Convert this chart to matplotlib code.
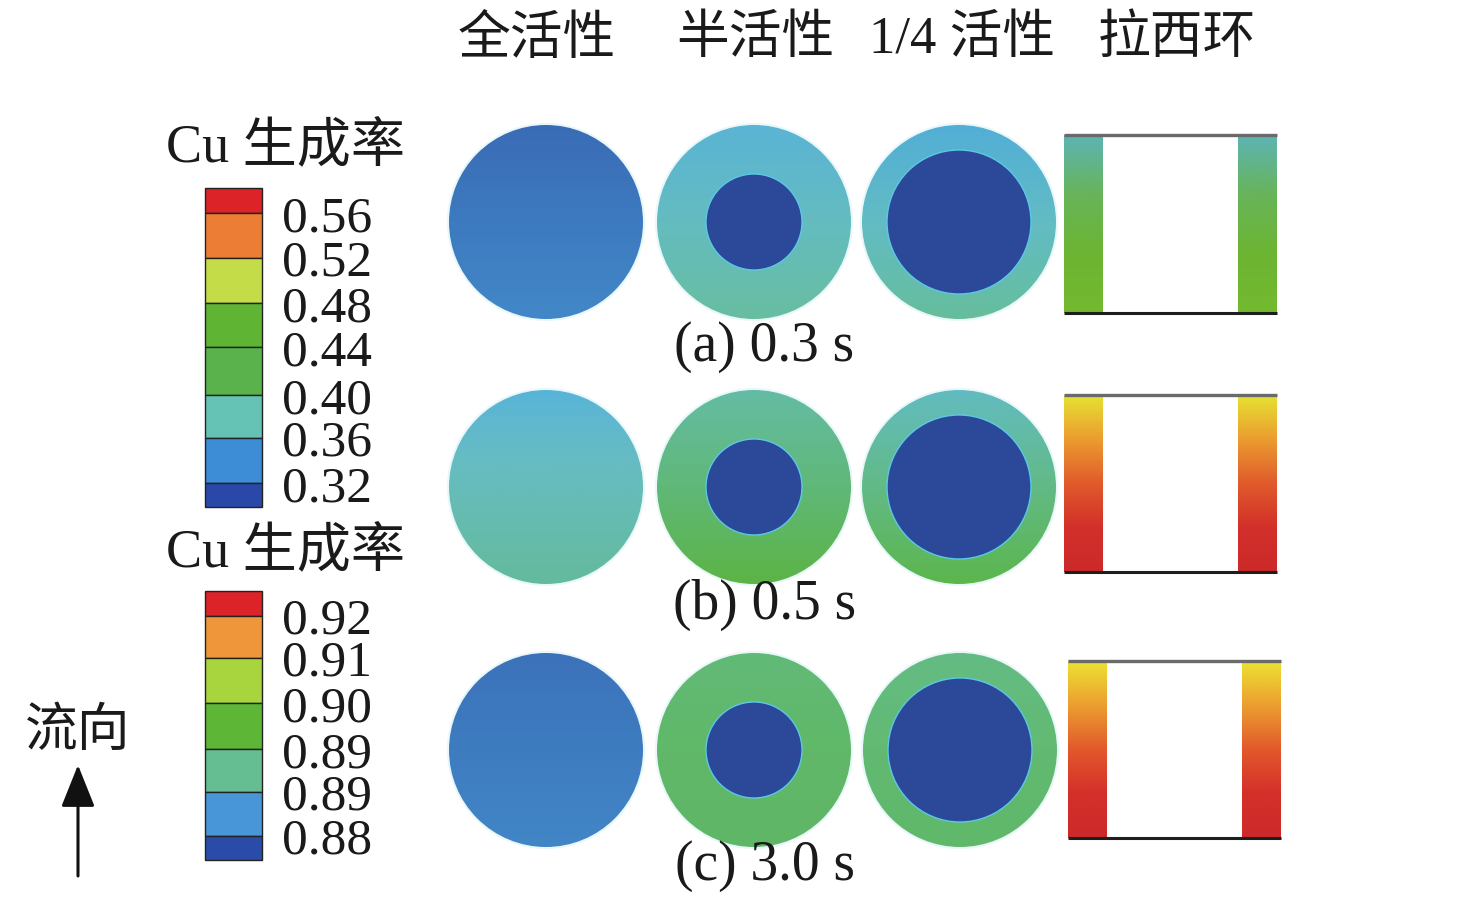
import numpy as np
import matplotlib
matplotlib.use('Agg')
import matplotlib.pyplot as plt
from matplotlib.patches import Circle, Rectangle
from matplotlib.colors import LinearSegmentedColormap

# ---------------- data ----------------
column_headers = ['全活性', '半活性', '1/4 活性', '拉西环']
time_labels = ['(a) 0.3 s', '(b) 0.5 s', '(c) 3.0 s']
cbar_title = 'Cu 生成率'
flow_label = '流向'

cbar1_ticks = ['0.56', '0.52', '0.48', '0.44', '0.40', '0.36', '0.32']
cbar1_colors = ['#dc2328', '#ec7d34', '#c4dc48', '#5fb434', '#5ab24c',
                '#64c3b4', '#3c8cd6', '#2a48a8']
cbar2_ticks = ['0.92', '0.91', '0.90', '0.89', '0.89', '0.88']
cbar2_colors = ['#dc2328', '#f0963a', '#a8d43e', '#5eb636', '#64be92',
                '#4896d8', '#2a4ca8']

# colour fields (top -> bottom) for each row: full, half, quarter, Raschig
row_a_fields = [['#3a6cb6', '#3d7abf', '#4288c8'],
                ['#5ab4d4', '#64bcc0', '#68bea0'],
                ['#52aed6', '#62bcc4', '#66be9c'],
                ['#5cb4b4', '#68b45a', '#6cb432', '#74ba30']]
row_b_fields = [['#58b4d8', '#66bcc4', '#66bcb0', '#64ba9c'],
                ['#64bca4', '#60b878', '#5cb446'],
                ['#62bcc0', '#62ba86', '#5cb64c'],
                ['#e6e232', '#ec9c30', '#e05a2c', '#d2302a', '#cc2a2a']]
row_c_fields = [['#3c72ba', '#3e7cc0', '#4286c6'],
                ['#62ba78', '#60b868', '#5eb666'],
                ['#64bc84', '#62ba72', '#60b86a'],
                ['#ece234', '#ec9e30', '#e2582c', '#d4302a', '#cc2a2a']]
inner_color = '#2c4898'
inner_edge = '#5cc8e6'

# ---------------- layout ----------------
W, H = 1476, 901
fig = plt.figure(figsize=(W / 100, H / 100), dpi=100)
ax = fig.add_axes([0, 0, 1, 1])

serif_cjk = ['Liberation Serif', 'Noto Sans CJK SC']

row_y = [222, 487, 750]
col_x = [546, 754, 959]
outer_r = 97
inner_r = [None, 48, 72]
ras_x = [(1064, 1277), (1064, 1277), (1068, 1281)]
ras_y = [(135, 313), (395, 572), (661, 838)]
bar_w = 39

grad = np.linspace(0, 1, 256).reshape(-1, 1)


def field_image(colors, x0, x1, y0, y1, clip):
    cmap = LinearSegmentedColormap.from_list('f', colors)
    im = ax.imshow(grad, cmap=cmap, extent=(x0, x1, y1, y0), origin='upper',
                   interpolation='bilinear', aspect='auto', zorder=2)
    im.set_clip_path(clip)


rows = [row_a_fields, row_b_fields, row_c_fields]
for ri, fields in enumerate(rows):
    cy = row_y[ri]
    for ci in range(3):
        cx = col_x[ci] + (1 if ri == 2 and ci == 2 else 0)
        halo = Circle((cx, cy), outer_r + 1.0, facecolor='none',
                      edgecolor='#cdeef4', lw=1.5, alpha=0.45, zorder=1)
        ax.add_patch(halo)
        circ = Circle((cx, cy), outer_r, facecolor='none', edgecolor='none',
                      zorder=2)
        ax.add_patch(circ)
        field_image(fields[ci], cx - outer_r, cx + outer_r,
                    cy - outer_r, cy + outer_r, circ)
        if inner_r[ci]:
            ax.add_patch(Circle((cx, cy), inner_r[ci], facecolor=inner_color,
                                edgecolor=inner_edge, lw=1.0, zorder=3))
    # Raschig ring
    x0, x1 = ras_x[ri]
    y0, y1 = ras_y[ri]
    for bx in (x0, x1 - bar_w):
        rect = Rectangle((bx, y0), bar_w, y1 - y0, facecolor='none',
                         edgecolor='none', zorder=2)
        ax.add_patch(rect)
        field_image(fields[3], bx, bx + bar_w, y0, y1, rect)
    ax.plot([x0, x1], [y0, y0], color='#6a6a6a', lw=2.4, zorder=4,
            solid_capstyle='butt')
    ax.plot([x0, x1], [y1, y1], color='#1e1e1e', lw=2.2, zorder=4,
            solid_capstyle='butt')

# headers
header_x = [537, 755, 962, 1177]
for hx, txt in zip(header_x, column_headers):
    ax.text(hx, 40, txt, ha='center', va='center', fontsize=38,
            family=serif_cjk, color='#1a1a1a')

# time labels
label_pos = [(764, 347), (765, 605), (765, 866)]
for (lx, ly), txt in zip(label_pos, time_labels):
    ax.text(lx, ly, txt, ha='center', va='center', fontsize=40,
            family=serif_cjk, color='#1a1a1a')


# colour bars
def draw_cbar(top, bounds, colors, ticks, title_y):
    ax.text(286, title_y, cbar_title, ha='center', va='center', fontsize=39,
            family=serif_cjk, color='#1a1a1a')
    edges = [top] + list(bounds)
    for k, col in enumerate(colors):
        ax.add_patch(Rectangle((205, edges[k]), 57, edges[k + 1] - edges[k],
                               facecolor=col, edgecolor='#222222', lw=1.0,
                               zorder=3))
    for yb, t in zip(bounds[:-1], ticks):
        ax.text(282, yb + 18, t, ha='left', va='baseline', fontsize=37,
                family='Liberation Serif', color='#1a1a1a')


draw_cbar(188, [213, 258, 303, 347, 395, 438, 483, 507], cbar1_colors,
          cbar1_ticks, 148)
draw_cbar(591, [616, 658, 703, 749, 792, 836, 860], cbar2_colors,
          cbar2_ticks, 553)

# flow direction
ax.text(78, 733, flow_label, ha='center', va='center', fontsize=38,
        family=serif_cjk, color='#1a1a1a')
ax.annotate('', xy=(78, 765), xytext=(78, 876),
            arrowprops=dict(arrowstyle='-|>,head_length=0.45,head_width=0.18',
                            mutation_scale=58, lw=2.2, color='#111111',
                            shrinkA=0, shrinkB=0))

ax.set_xlim(0, W)
ax.set_ylim(H, 0)
ax.set_aspect('auto')
ax.axis('off')
fig.savefig('out.png', dpi=100, facecolor='white')
